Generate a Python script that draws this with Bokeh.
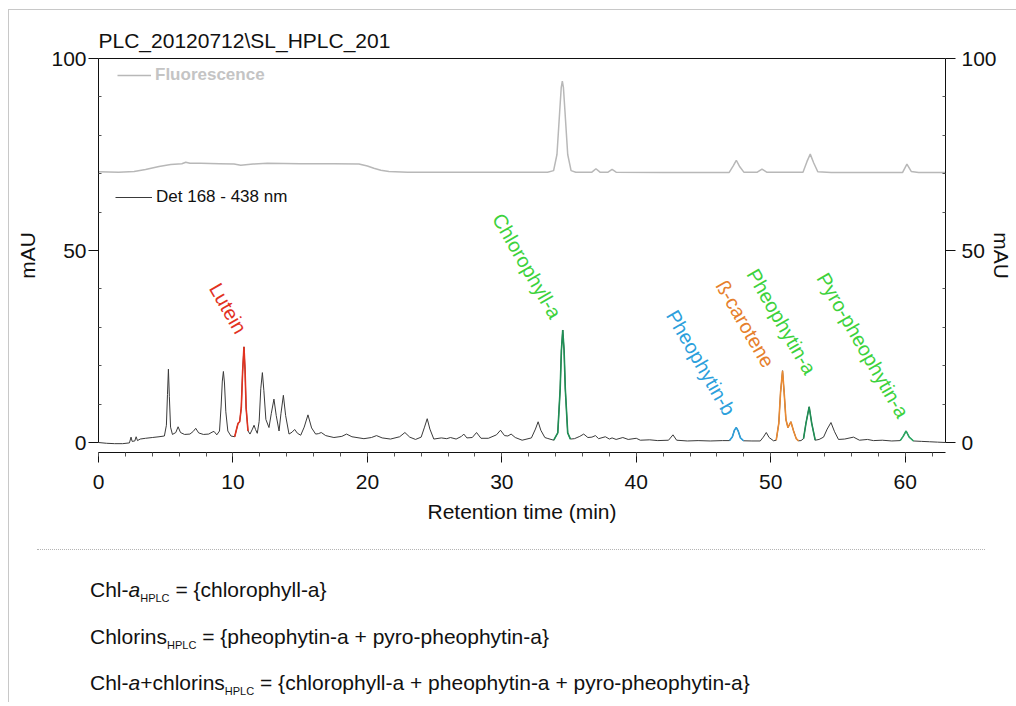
import math
from bokeh.plotting import figure
from bokeh.models import (Range1d, LinearAxis, Legend, LegendItem, Div,
                          FixedTicker, ColumnDataSource)
from bokeh.layouts import column
from bokeh.embed import file_html
from bokeh.resources import INLINE
from bokeh.core.properties import value

FONT = "Liberation Sans"

# ---------------- data ----------------
title_text = "PLC_20120712\\SL_HPLC_201"
x_label = "Retention time (min)"
y_label = "mAU"
x_ticks = [0, 10, 20, 30, 40, 50, 60]
y_ticks = [0, 50, 100]

# Fluorescence trace (time in min, signal in mAU)
fl_time = [0.0, 1.5, 2.65, 3.5, 4.5, 5.37, 6.2, 6.49, 6.8, 7.6, 9.0, 10.08, 10.58, 11.5,
           12.56, 15.0, 17.51, 19.37, 20.0, 20.48, 21.0, 21.6, 23.0, 26.2, 30.0, 33.4,
           33.85, 34.1, 34.3, 34.42, 34.5, 34.58, 34.7, 34.9, 35.15, 35.5, 36.7, 37.0,
           37.3, 37.9, 38.2, 38.5, 42.0, 46.9, 47.2, 47.44, 47.7, 48.0, 49.0, 49.35,
           49.7, 52.4, 52.7, 52.94, 53.2, 53.5, 54.5, 59.8, 60.13, 60.45, 61.0, 63.0]
fl_mau = [70.5, 70.4, 70.6, 71.1, 71.9, 72.4, 72.6, 73.0, 72.7, 72.7, 72.6, 72.5, 72.2, 72.5,
          72.7, 72.6, 72.6, 72.5, 72.0, 71.4, 70.9, 70.6, 70.4, 70.4, 70.4, 70.4,
          70.8, 75.0, 86.0, 92.5, 94.1, 92.5, 86.0, 75.0, 70.8, 70.4, 70.4, 71.3,
          70.4, 70.4, 71.1, 70.4, 70.3, 70.3, 72.0, 73.5, 71.8, 70.4, 70.4, 71.2,
          70.4, 70.4, 73.2, 75.1, 72.8, 70.5, 70.3, 70.3, 72.5, 70.6, 70.3, 70.3]

# Absorbance trace "Det 168 - 438 nm"
det_time = [0.0, 0.6, 1.2, 1.8, 2.3, 2.42, 2.5, 2.7, 2.8, 2.9, 3.1, 3.5, 4.0, 4.5, 4.9,
            5.05, 5.13, 5.2, 5.27, 5.36, 5.5, 5.75, 5.92, 6.1, 6.4, 6.8, 7.05, 7.23, 7.45,
            7.8, 8.2, 8.45, 8.59, 8.8, 9.0, 9.12, 9.21, 9.29, 9.37, 9.47, 9.62, 9.85, 10.13,
            10.25, 10.38, 10.5, 10.62, 10.72, 10.82, 10.9, 10.98, 11.12,
            11.27, 11.45, 11.57, 11.68, 11.81, 11.95, 12.07, 12.19, 12.3, 12.45, 12.68,
            12.85, 13.05, 13.22, 13.43, 13.57, 13.75, 13.92, 14.17, 14.4, 14.59, 14.8, 15.04,
            15.3, 15.58, 15.85, 16.15, 16.35, 16.57, 16.9, 17.51, 18.1, 18.45, 18.85, 19.74,
            20.3, 20.68, 21.1, 21.72, 22.4, 22.79, 23.15, 23.58, 24.0, 24.25, 24.45, 24.65,
            24.94, 25.5, 25.9, 26.18, 26.6, 27.0, 27.17, 27.4, 27.8, 28.12, 28.45, 29.0,
            29.6, 29.9, 30.2, 30.45, 30.69, 31.0, 31.51, 32.2, 32.5, 32.7, 32.9, 33.2, 33.37,
            33.86, 34.16, 34.34, 34.43, 34.53, 34.63, 34.72, 34.9, 35.1,
            35.4, 35.8, 36.09, 36.4, 36.7, 36.96, 37.2, 37.7, 38.0, 38.2, 38.5, 39.0, 39.4,
            40.0, 40.3, 41.0, 41.6, 42.4, 42.73, 43.0, 43.8, 44.6, 45.5, 46.4, 46.94,
            47.15, 47.3, 47.44, 47.58, 47.75, 47.98, 48.6, 49.22, 49.45, 49.67, 49.88, 50.21,
            50.41, 50.6, 50.73, 50.88, 51.0, 51.13, 51.28, 51.5, 51.7, 51.9, 52.07, 52.25,
            52.44, 52.62, 52.86, 53.05, 53.31, 53.6, 53.93, 54.2, 54.48, 54.75, 55.04, 55.5,
            56.16, 56.6, 57.2, 57.64, 58.3, 59.0, 59.63, 59.85, 60.07, 60.3, 60.62, 61.2,
            61.8, 62.4, 63.0]
det_mau = [0.0, -0.2, -0.3, -0.3, -0.1, 1.4, 0.3, 0.4, 1.5, 0.5, 0.9, 1.1, 1.3, 1.5, 1.7,
           4.5, 12.5, 19.1, 12.0, 4.0, 2.1, 2.6, 4.1, 2.6, 2.1, 2.2, 2.9, 3.7, 2.5,
           2.1, 2.2, 2.7, 2.9, 2.0, 3.0, 9.5, 16.0, 18.5, 15.5, 8.0, 3.0, 1.7, 1.5,
           3.2, 5.0, 5.4, 9.0, 18.5, 24.9, 19.0, 9.0, 3.0,
           2.2, 3.5, 4.5, 3.4, 2.4, 5.5, 14.0, 18.2, 13.5, 6.0, 3.9,
           7.5, 11.3, 7.0, 3.0, 7.5, 12.3, 7.0, 2.2, 2.7, 3.4, 2.4, 1.9,
           4.0, 7.2, 3.8, 2.2, 2.3, 2.6, 1.8, 1.3, 1.6, 2.2, 1.5, 1.0,
           1.3, 1.8, 1.2, 0.9, 1.5, 2.6, 1.4, 0.8, 1.4, 4.0, 6.2, 3.5,
           0.9, 1.2, 1.0, 1.3, 0.9, 1.6, 2.2, 1.2, 1.3, 2.6, 1.1, 1.1,
           2.0, 3.2, 1.8, 1.7, 2.2, 1.3, 0.6, 1.2, 3.5, 5.4, 3.2, 1.3, 1.1,
           0.6, 2.5, 14.0, 24.0, 29.3, 24.0, 14.0, 2.5, 0.9,
           1.0, 1.6, 2.2, 1.3, 1.4, 1.8, 1.0, 1.5, 0.9, 1.2, 0.8, 1.3, 0.8,
           1.1, 0.6, 0.7, 0.5, 0.6, 2.0, 0.6, 0.4, 0.5, 0.4, 0.5, 0.5,
           1.5, 3.2, 3.9, 3.0, 1.2, 0.45, 0.4, 0.4, 1.4, 2.6, 1.3, 0.45,
           0.6, 5.0, 13.0, 18.7, 13.0, 6.0, 3.9, 5.4, 3.0, 1.0, 0.45, 0.5,
           1.0, 5.0, 9.3, 5.0, 0.6, 0.8, 1.4, 3.5, 5.2, 2.8, 0.8, 0.9,
           1.4, 0.6, 0.8, 0.5, 0.6, 0.4, 0.5, 1.6, 3.0, 1.4, 0.4, 0.3,
           0.2, 0.1, 0.0]

# identified pigments: name, elution window (min), trace colour, label colour
pigments = ["Lutein", "Chlorophyll-a", "Pheophytin-b", "ß-carotene", "Pheophytin-a", "Pyro-pheophytin-a"]
window_start = [10.13, 33.86, 46.94, 50.41, 52.44, 59.63]
window_end = [11.12, 35.10, 47.98, 52.07, 53.31, 60.62]
trace_colors = ["#e2321f", "#1f8f55", "#2c9fdc", "#ea8a32", "#1f8f55", "#2aa862"]
label_colors = ["#e2321f", "#3cd23c", "#2c9fdc", "#e67f2c", "#3cd23c", "#3cd23c"]
# end point of each rotated label (min, mAU)
label_x = [10.65, 34.06, 47.0, 49.9, 53.0, 59.9]
label_y = [28.8, 32.7, 7.5, 20.0, 18.2, 6.9]

formula_lines = [
    ("Chl-", "a", "HPLC", " = {chlorophyll-a}"),
    ("Chlorins", "HPLC", " = {pheophytin-a + pyro-pheophytin-a}"),
    ("Chl-", "a", "+chlorins", "HPLC", " = {chlorophyll-a + pheophytin-a + pyro-pheophytin-a}"),
]

# ---------------- figure ----------------
p = figure(width=1007, height=539, output_backend="svg", toolbar_location=None,
           x_range=Range1d(0, 63), y_range=Range1d(-2.6, 100),
           x_axis_location=None, y_axis_location=None,
           min_border_left=89, min_border_right=71, min_border_top=48, min_border_bottom=97,
           background_fill_color="white", border_fill_color="white")
p.outline_line_color = None
p.xgrid.grid_line_color = None
p.ygrid.grid_line_color = None

p.title.text = title_text
p.title.text_font = FONT
p.title.text_font_size = "21px"
p.title.text_font_style = "normal"
p.title.text_color = "#111111"
p.title.align = "left"
p.title.standoff = 13


def style_axis(ax):
    ax.axis_line_color = "#111111"
    ax.major_tick_line_color = "#111111"
    ax.minor_tick_line_color = "#555555"
    ax.major_label_text_font = FONT
    ax.major_label_text_font_size = "21px"
    ax.major_label_text_color = "#111111"
    ax.axis_label_text_font = FONT
    ax.axis_label_text_font_size = "21px"
    ax.axis_label_text_font_style = "normal"
    ax.axis_label_text_color = "#111111"


xaxis = LinearAxis(ticker=FixedTicker(ticks=x_ticks, minor_ticks=list(range(0, 64, 2))),
                   axis_label=x_label)
style_axis(xaxis)
xaxis.major_tick_out = 10
xaxis.major_tick_in = 0
xaxis.minor_tick_out = 4
xaxis.minor_tick_in = 0
xaxis.major_label_standoff = 12
xaxis.axis_label_standoff = 8
p.add_layout(xaxis, "below")

for side, standoff, lab_standoff in (("left", 2, 9), ("right", 6, -10)):
    ax = LinearAxis(ticker=FixedTicker(ticks=y_ticks, minor_ticks=[10, 20, 30, 40, 60, 70, 80, 90]),
                    bounds=(0, 100), axis_label=y_label)
    style_axis(ax)
    ax.major_tick_out = 10
    ax.major_tick_in = 0
    ax.minor_tick_out = 0
    ax.minor_tick_in = 3
    ax.major_label_standoff = standoff
    ax.axis_label_standoff = lab_standoff
    p.add_layout(ax, side)

top = LinearAxis(ticker=FixedTicker(ticks=[]))
top.axis_line_color = "#111111"
p.add_layout(top, "above")

# traces
fl_r = p.line(fl_time, fl_mau, line_color="#b8b8b8", line_width=1.5)
det_r = p.line(det_time, det_mau, line_color="#3a3a3a", line_width=1)

for s, e, c in zip(window_start, window_end, trace_colors):
    xs = [t for t in det_time if s <= t <= e]
    ys = [v for t, v in zip(det_time, det_mau) if s <= t <= e]
    p.line(xs, ys, line_color=c, line_width=1.6)

lab_src = ColumnDataSource(dict(x=label_x, y=label_y, text=pigments, color=label_colors))
p.text(x="x", y="y", text="text", source=lab_src, angle=-math.radians(60),
       text_align="right", text_baseline="middle", text_color="color",
       text_font=value(FONT), text_font_size="20px")

# legends
leg_common = dict(border_line_color=None, background_fill_alpha=0, padding=0, margin=0,
                  spacing=0, glyph_height=20, label_height=20, label_standoff=4,
                  label_text_font=FONT, label_text_font_size="17px")
leg1 = Legend(items=[LegendItem(label="Fluorescence", renderers=[fl_r])],
              location=(19, 367), glyph_width=34, label_text_font_style="bold",
              label_text_color="#c4c4c4", **leg_common)
leg2 = Legend(items=[LegendItem(label="Det 168 - 438 nm", renderers=[det_r])],
              location=(17, 245), glyph_width=37, label_text_color="#111111", **leg_common)
p.add_layout(leg1)
p.add_layout(leg2)

# ---------------- formulas ----------------
def line_html(parts):
    out = []
    for part in parts:
        if part == "a":
            out.append("<i>a</i>")
        elif part == "HPLC":
            out.append('<span style="font-size:11px;line-height:0;position:relative;top:5px;">HPLC</span>')
        else:
            out.append(part)
    return "<div>" + "".join(out) + "</div>"

html = ('<div style="width:1007px;height:153px;font-family:\'Liberation Sans\',Arial,sans-serif;color:#111;">'
        '<div style="margin-left:28px;width:948px;height:0;border-top:1px dotted #b4b4b4;"></div>'
        '<div style="padding-left:81px;padding-top:17px;font-size:21px;line-height:46.5px;">'
        + "".join(line_html(l) for l in formula_lines) +
        '</div></div>')
div = Div(text=html, width=1007, height=153, margin=0)

layout = column(p, div, margin=(9, 0, 0, 8),
                styles={"border-left": "1px solid #c8c8c8", "border-top": "1px solid #c8c8c8"})

open("out.html", "w").write(file_html(layout, INLINE))
